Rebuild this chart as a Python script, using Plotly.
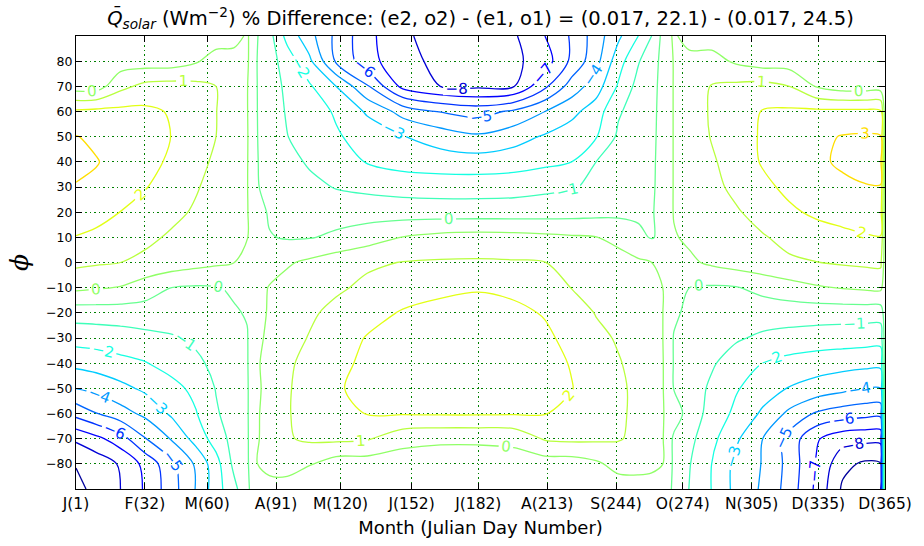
import plotly.graph_objects as go

# ---- data (percent difference) ----
days = [1, 10, 21, 32, 44, 55, 64, 72, 78, 82, 88, 96, 106, 118, 132, 148, 165, 182, 198, 212,
        224, 235, 245, 254, 260, 265, 270, 277, 287, 298, 310, 322, 334, 346, 356, 363, 365]
lats = [-90, -80, -70, -60, -50, -40, -30, -20, -10, 0, 10, 20, 30, 40, 50, 60, 70, 80, 90]

q_p90 = [0, 0, 0, 0, 0, 0, 0, 0, 0.6, -0.35, -1.04, -2.55, -3.73, -5.16, -6.46, -7.58, -7.82, -8.0, -7.77, -6.75,
         -5.74, -4.5, -3.33, -2.25, -1.35, -0.2, 0.6, 0, 0, 0, 0, 0, 0, 0, 0, 0, 0]
q_p80 = [0, 0, 0, 0, 0, 0.35, 0.85, 0.95, 0.6, -0.4, -1.02, -1.73, -2.95, -5.07, -6.35, -7.46, -7.8, -7.95, -7.85, -7.2,
         -5.65, -4.35, -2.64, -1.42, -0.8, -0.23, 0.5, 0.8, 0.8, 0.3, 0, 0, 0, 0, 0, 0, 0]
q_p70 = [0, 0, 1.09, 1.6, 1.7, 1.6, 1.35, 0.87, 0.5, -0.4, -0.93, -1.53, -2.13, -3.15, -4.85, -7.01, -7.66, -7.8, -7.69, -6.03,
         -4.55, -3.58, -2.15, -1.04, -0.67, -0.24, 0.5, 0.87, 1.4, 1.55, 1.65, 1.35, 0.4, 0, 0, 0, 0]
q_p60 = [2.41, 2.5, 2.5, 2.45, 2.17, 1.73, 1.37, 0.88, 0.5, -0.4, -0.88, -1.43, -1.83, -2.35, -3.27, -4.38, -5.0, -5.3, -4.79, -4.05,
         -3.41, -2.69, -1.46, -0.93, -0.62, -0.24, 0.5, 0.88, 1.45, 1.85, 2.3, 2.4, 2.45, 2.45, 2.45, 2.42, 0]
q_p50 = [3.18, 2.99, 2.75, 2.51, 2.24, 1.75, 1.35, 0.88, 0.53, -0.4, -0.81, -1.33, -1.71, -2.15, -2.6, -3.1, -3.55, -3.9, -3.5, -3.05,
         -2.66, -2.31, -1.19, -0.83, -0.59, -0.24, 0.5, 0.84, 1.4, 1.89, 2.34, 2.65, 2.95, 3.2, 3.25, 3.22, 0]
q_p40 = [3.45, 3.2, 2.85, 2.52, 2.12, 1.62, 1.2, 0.81, 0.51, -0.4, -0.7, -1.06, -1.46, -1.86, -2.3, -2.6, -2.72, -2.75, -2.65, -2.45,
         -2.25, -1.35, -1.03, -0.75, -0.56, -0.24, 0.5, 0.77, 1.23, 1.76, 2.33, 2.64, 2.97, 3.3, 3.45, 3.45, 0]
q_p30 = [3.08, 2.98, 2.65, 2.3, 1.86, 1.42, 1.06, 0.74, 0.5, -0.4, -0.61, -0.83, -1.11, -1.4, -1.55, -1.68, -1.74, -1.75, -1.7, -1.55,
         -1.42, -1.18, -0.93, -0.7, -0.54, -0.24, 0.5, 0.72, 1.12, 1.55, 2.05, 2.45, 2.7, 2.95, 3.1, 3.12, 0]
q_p20 = [2.67, 2.5, 2.24, 1.92, 1.57, 1.24, 0.95, 0.69, 0.5, -0.07, -0.55, -0.65, -0.72, -0.8, -0.85, -0.88, -0.89, -0.89, -0.88, -0.85,
         -0.8, -0.72, -0.65, -0.57, -0.5, -0.25, 0.5, 0.7, 0.94, 1.26, 1.68, 2.11, 2.4, 2.55, 2.65, 2.67, 0]
q_p10 = [2.22, 2.1, 1.85, 1.55, 1.23, 0.99, 0.79, 0.6, 0.48, 0.1, -0.4, -0.52, -0.5, -0.3, 0.05, 0.48, 0.72, 0.8, 0.75, 0.66,
         0.56, 0.48, 0.2, -0.3, -0.5, -0.3, 0.38, 0.6, 0.8, 1.0, 1.28, 1.6, 1.85, 2.05, 2.18, 2.22, 0]
q_p00 = [1.55, 1.45, 1.35, 1.15, 0.95, 0.76, 0.6, 0.46, 0.2, 0.0, 0.05, 0.35, 0.62, 0.95, 1.2, 1.38, 1.44, 1.45, 1.42, 1.36,
         1.2, 1.0, 0.8, 0.6, 0.45, 0.15, 0.0, 0.3, 0.6, 0.85, 1.05, 1.22, 1.33, 1.45, 1.52, 1.55, 0]
q_m10 = [0.65, 0.55, 0.4, 0.0, -0.45, -0.55, -0.5, -0.35, -0.15, 0.1, 0.5, 0.75, 0.95, 1.2, 1.55, 1.85, 2.1, 2.2, 2.1, 1.7,
         1.33, 1.05, 0.85, 0.65, 0.55, 0.45, 0.1, -0.45, -0.55, -0.5, -0.2, 0.1, 0.35, 0.5, 0.6, 0.65, 0]
q_m20 = [-0.96, -0.93, -0.9, -0.85, -0.78, -0.7, -0.62, -0.52, -0.4, 0.1, 0.55, 0.9, 1.2, 1.6, 1.95, 2.32, 2.45, 2.48, 2.4, 2.2,
         1.85, 1.3, 1.0, 0.75, 0.6, 0.46, -0.3, -0.65, -0.8, -0.88, -0.92, -0.94, -0.95, -0.96, -0.96, -0.96, 0]
q_m30 = [-1.9, -1.85, -1.75, -1.6, -1.45, -1.2, -0.95, -0.75, -0.5, 0.2, 0.65, 1.0, 1.4, 1.85, 2.3, 2.55, 2.62, 2.62, 2.55, 2.38,
         2.05, 1.6, 1.25, 0.9, 0.7, 0.46, -0.5, -0.75, -0.95, -1.25, -1.5, -1.65, -1.75, -1.82, -1.88, -1.9, 0]
q_m40 = [-2.9, -2.75, -2.5, -2.3, -1.9, -1.51, -1.15, -0.79, -0.52, 0.3, 0.8, 1.2, 1.62, 2.05, 2.4, 2.55, 2.62, 2.62, 2.55, 2.42,
         2.22, 1.85, 1.42, 1.05, 0.8, 0.5, -0.5, -0.8, -1.25, -1.75, -2.26, -2.55, -2.72, -2.82, -2.88, -2.9, 0]
q_m50 = [-4.03, -3.8, -3.4, -2.98, -2.54, -2.01, -1.31, -0.87, -0.54, 0.2, 0.85, 1.25, 1.75, 2.2, 2.38, 2.45, 2.5, 2.5, 2.45, 2.38,
         2.27, 1.95, 1.55, 1.1, 0.8, 0.5, -0.48, -0.9, -1.5, -2.17, -2.72, -3.2, -3.5, -3.8, -4.05, -4.05, 0]
q_m60 = [-5.54, -4.98, -4.4, -3.85, -3.0, -2.3, -1.45, -0.95, -0.55, 0.3, 0.85, 1.28, 1.7, 2.05, 2.28, 2.32, 2.35, 2.35, 2.32, 2.27,
         2.12, 1.85, 1.5, 1.15, 0.85, 0.5, 0.0, -0.8, -1.7, -2.45, -3.3, -4.25, -5.05, -5.4, -5.55, -5.6, 0]
q_m70 = [-7.5, -7.0, -6.25, -5.0, -3.97, -2.8, -1.85, -1.03, -0.57, 0.3, 0.9, 1.27, 1.5, 1.55, 1.45, 0.75, 0.6, 0.6, 0.7, 1.45,
         1.55, 1.5, 1.42, 1.15, 0.8, 0.5, -0.6, -1.1, -2.0, -3.0, -4.05, -5.3, -6.65, -7.3, -7.4, -7.4, 0]
q_m80 = [-8.5, -8.2, -7.55, -6.5, -5.2, -3.9, -2.6, -1.15, -0.6, 0.4, 0.85, 0.9, 0.5, 0, 0, 0, 0, 0, 0, 0,
         0, 0.3, 0.75, 0.8, 0.7, 0.46, -0.6, -1.3, -2.25, -3.4, -4.1, -5.25, -6.8, -8.3, -8.7, -8.65, 0]
q_m90 = [-8.8, -8.3, -7.65, -6.65, -5.34, -4.0, -2.64, -1.61, -0.71, 0.3, 0, 0, 0, 0, 0, 0, 0, 0, 0, 0,
         0, 0, 0, 0, 0, 0, -0.58, -1.38, -2.27, -3.42, -4.18, -5.33, -6.93, -8.7, -9.0, -8.9, 0]

z = [q_m90, q_m80, q_m70, q_m60, q_m50, q_m40, q_m30, q_m20, q_m10, q_p00,
     q_p10, q_p20, q_p30, q_p40, q_p50, q_p60, q_p70, q_p80, q_p90]

x_tick_vals = [1, 32, 60, 91, 120, 152, 182, 213, 244, 274, 305, 335, 365]
x_tick_text = ['J(1)', 'F(32)', 'M(60)', 'A(91)', 'M(120)', 'J(152)', 'J(182)',
               'A(213)', 'S(244)', 'O(274)', 'N(305)', 'D(335)', 'D(365)']
y_tick_vals = [-80, -70, -60, -50, -40, -30, -20, -10, 0, 10, 20, 30, 40, 50, 60, 70, 80]
y_tick_text = [('\u2212%d' % -v) if v < 0 else str(v) for v in y_tick_vals]

# ---- contour levels and jet-like line colours ----
lev_start, lev_step, n_lev = -8.55, 0.9, 14
lev_vals = [lev_start + lev_step * k for k in range(n_lev)]


def jet(t):
    def seg(pts):
        for (a, va), (b, vb) in zip(pts[:-1], pts[1:]):
            if a <= t <= b:
                return va + (vb - va) * (t - a) / (b - a)
        return pts[-1][1] if t > pts[-1][0] else pts[0][1]
    r = seg([(0, 0), (0.35, 0), (0.66, 1), (0.89, 1), (1, 0.5)])
    g = seg([(0, 0), (0.125, 0), (0.375, 1), (0.64, 1), (0.91, 0), (1, 0)])
    b = seg([(0, 0.5), (0.11, 1), (0.34, 1), (0.65, 0), (1, 0)])
    return 'rgb(%d,%d,%d)' % (round(r * 255), round(g * 255), round(b * 255))


cscale = [[k / (n_lev - 1), jet((v + 9.0) / 18.0)] for k, v in enumerate(lev_vals)]

fig = go.Figure()
fig.add_trace(go.Contour(
    x=days, y=lats, z=z,
    autocontour=False,
    contours=dict(start=lev_start, end=lev_vals[-1] + 0.05, size=lev_step,
                  coloring='lines', showlabels=True,
                  labelfont=dict(size=15, family='DejaVu Sans'),
                  labelformat='.0f'),
    colorscale=cscale, zmin=lev_vals[0], zmax=lev_vals[-1],
    showscale=False,
    line=dict(width=1.3, smoothing=0.9),
    hoverinfo='skip',
))

axis_common = dict(
    ticks='inside', ticklen=6, tickwidth=1, tickcolor='black',
    showline=True, linecolor='black', linewidth=1.2, mirror='ticks',
    showgrid=True, gridcolor='#008000', griddash='1.5px,3px', gridwidth=1,
    zeroline=False,
)

fig.update_xaxes(range=[1, 365], tickmode='array', tickvals=x_tick_vals, ticktext=x_tick_text,
                 tickfont=dict(size=15.5, family='DejaVu Sans', color='black'),
                 title=dict(text='Month (Julian Day Number)', font=dict(size=18, family='DejaVu Sans'), standoff=9),
                 **axis_common)
fig.update_yaxes(range=[-90, 90], tickmode='array', tickvals=y_tick_vals, ticktext=y_tick_text,
                 tickfont=dict(size=12.5, family='DejaVu Sans', color='black'),
                 title=dict(text='<i>\u03d5</i>', font=dict(size=25, family='DejaVu Serif'), standoff=10),
                 **axis_common)

fig.update_layout(
    width=924, height=546,
    margin=dict(l=76, r=34, t=36, b=50),
    paper_bgcolor='white', plot_bgcolor='white',
    font=dict(family='DejaVu Sans', color='black'),
    title=dict(text='<i>Q\u0304</i><sub><i>solar</i></sub> (Wm<sup>\u22122</sup>) % Difference: '
                    '(e2, o2) - (e1, o1) = (0.017, 22.1) - (0.017, 24.5)',
               font=dict(size=19.5, family='DejaVu Sans'),
               x=0.5, xref='paper', xanchor='center', y=1 - 18 / 546, yref='container', yanchor='middle'),
    showlegend=False,
)

fig.write_html('out.html', config={'displayModeBar': False})
